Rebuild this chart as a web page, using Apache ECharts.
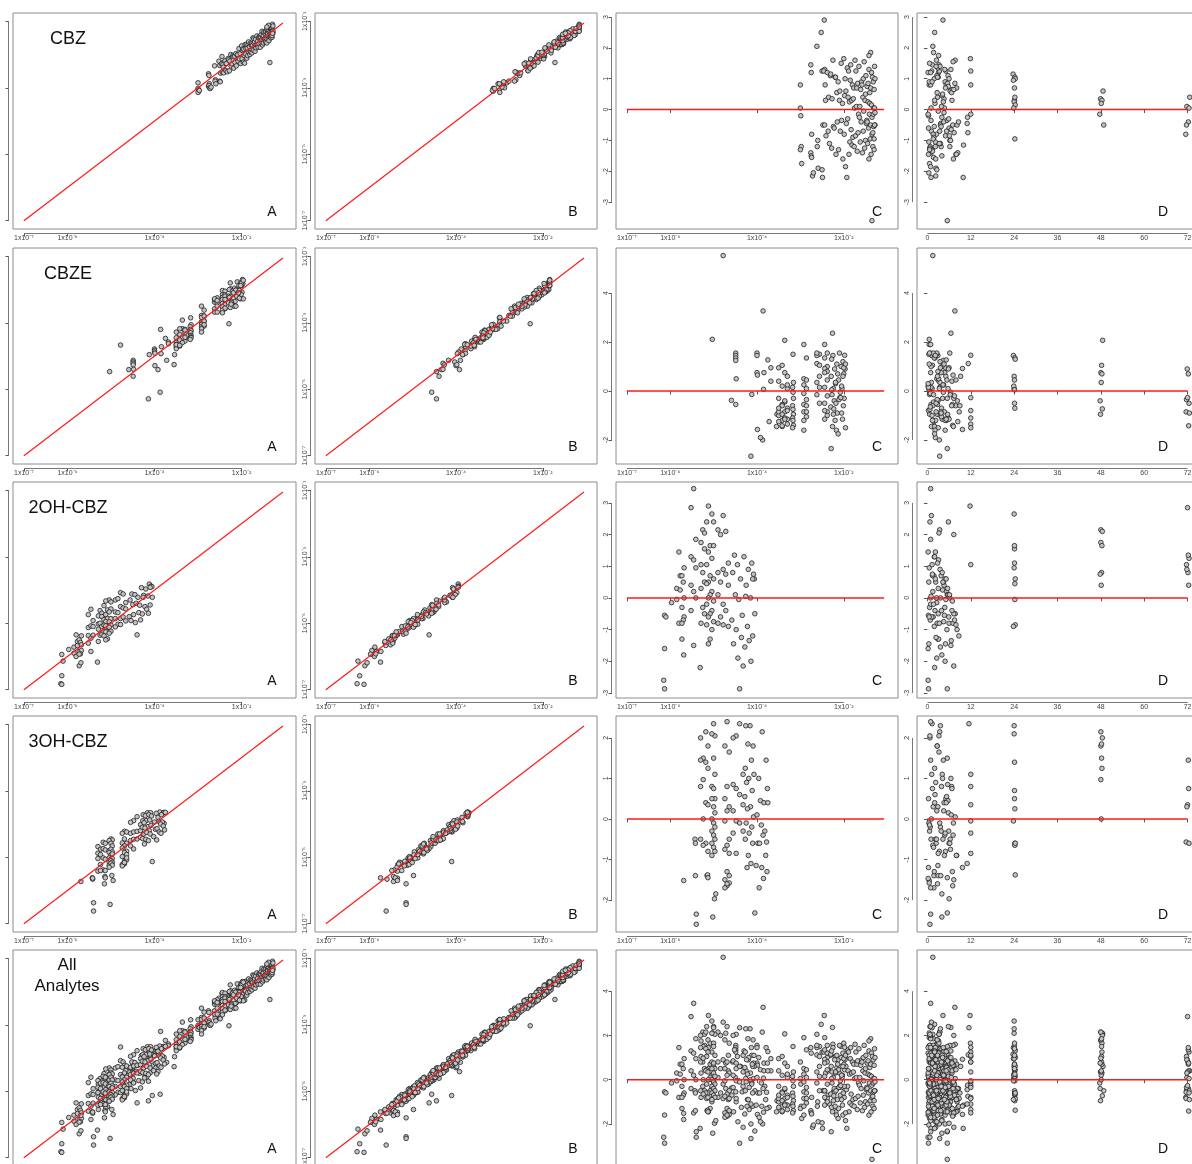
<!DOCTYPE html>
<html><head><meta charset="utf-8">
<script src="https://cdn.jsdelivr.net/npm/echarts@6/dist/echarts.min.js"></script>
<style>html,body{margin:0;padding:0;background:#fff}#c{width:1192px;height:1164px}</style>
</head><body><div id="c"></div>
<script>
// Columns of every row: [time (h), log10 PRED, log10 observed, log10 IPRED, CWRES]
const cbzRows = [
[0.5,-3.00,-2.85,-2.83,0.80],[1.0,-3.00,-3.02,-3.14,0.05],[0.3,-2.99,-3.07,-3.00,-0.20],[2.2,-2.98,-3.10,-3.14,-1.20],
[0.8,-3.00,-3.14,-2.99,-1.30],[0.6,-2.97,-3.08,-3.16,-1.75],[1.4,-2.76,-2.58,-2.58,1.45],[3.1,-2.75,-2.63,-2.53,1.20],
[2.5,-2.74,-2.88,-3.03,-0.80],[0.9,-2.76,-2.95,-2.90,-1.40],[4.0,-2.75,-2.93,-2.95,-1.50],[1.7,-2.74,-3.00,-2.88,-1.55],
[2.3,-2.72,-3.02,-3.11,-2.15],[0.4,-2.70,-2.98,-2.94,-2.05],[1.5,-2.62,-2.34,-2.40,2.05],[6.2,-2.60,-2.76,-2.62,-1.00],
[3.8,-2.61,-2.80,-2.78,-1.20],[2.4,-2.59,-2.88,-3.00,-1.90],[2.0,-2.52,-2.20,-2.13,2.50],[5.1,-2.50,-2.33,-2.37,1.25],
[2.6,-2.50,-2.80,-2.65,-1.95],[1.0,-2.49,-2.82,-2.90,-2.20],[7.0,-2.48,-2.56,-2.56,-0.50],[4.3,-2.45,-2.06,-1.96,2.90],
[6.5,-2.44,-2.25,-2.40,1.30],[3.3,-2.46,-2.28,-2.23,1.25],[0.9,-2.43,-2.31,-2.33,0.80],[24.1,-2.42,-2.38,-2.26,0.30],
[8.2,-2.44,-2.53,-2.62,-0.50],[5.0,-2.41,-2.55,-2.51,-0.85],
[0.2,-2.38,-2.19,-2.25,1.20],[1.1,-2.36,-2.48,-2.34,-0.70],[2.8,-2.35,-2.27,-2.25,0.40],[3.6,-2.33,-2.52,-2.64,-1.10],
[5.7,-2.31,-2.12,-2.05,1.10],[23.7,-2.30,-2.16,-2.20,1.15],[0.7,-2.28,-2.49,-2.34,-1.25],[4.6,-2.27,-2.20,-2.28,0.35],
[7.7,-2.25,-2.00,-2.00,1.60],[1.9,-2.24,-2.35,-2.25,-0.55],[6.0,-2.22,-2.28,-2.43,-0.60],[3.0,-2.20,-2.03,-1.98,1.05],
[24.2,-2.19,-2.07,-2.09,1.05],[0.3,-2.18,-2.41,-2.29,-1.45],[2.7,-2.16,-2.05,-2.14,0.55],[8.6,-2.15,-2.24,-2.20,-0.40],
[4.9,-2.13,-1.97,-2.03,0.90],[1.3,-2.12,-2.34,-2.20,-1.30],[6.8,-2.10,-2.02,-2.00,0.30],[48.6,-2.09,-2.00,-2.12,0.60],
[3.4,-2.08,-2.20,-2.13,-0.70],[0.6,-2.06,-1.82,-1.86,1.50],[5.4,-2.05,-2.13,-1.98,-0.35],[2.1,-2.03,-1.97,-2.05,0.20],
[7.2,-2.02,-2.27,-2.27,-1.60],[11.9,-2.00,-1.74,-1.64,1.65],[1.6,-1.99,-2.13,-2.28,-0.80],[4.1,-1.98,-1.88,-1.83,0.45],
[24.3,-1.97,-1.83,-1.85,1.00],[0.9,-1.96,-2.23,-2.11,-1.85],[6.3,-1.95,-1.84,-1.93,0.60],[3.7,-1.94,-2.03,-1.99,-0.45],
[9.9,-1.93,-2.26,-2.32,-2.20],[2.9,-1.92,-1.70,-1.56,1.35],[5.9,-1.91,-1.98,-1.96,-0.30],[72.6,-1.90,-1.82,-1.94,0.40],
[1.2,-1.89,-1.69,-1.62,1.25],[7.9,-1.88,-2.11,-2.15,-1.45],[4.4,-1.87,-1.80,-1.65,0.25],[0.4,-1.86,-2.03,-2.11,-1.05],
[23.8,-1.85,-1.70,-1.70,0.95],[3.2,-1.84,-1.62,-1.52,1.45],[6.6,-1.83,-1.94,-2.09,-0.65],[2.0,-1.82,-1.76,-1.71,0.30],
[10.0,-1.81,-2.00,-2.02,-1.15],[5.2,-1.80,-1.66,-1.54,0.80],[1.8,-1.79,-1.93,-2.02,-0.90],[47.9,-1.78,-1.71,-1.67,0.35],
[8.1,-1.77,-1.68,-1.74,0.70],[0.8,-1.76,-1.95,-1.81,-1.20],[4.7,-1.75,-1.72,-1.70,0.05],[2.5,-1.74,-1.50,-1.62,1.60],
[6.1,-1.73,-1.87,-1.80,-0.85],[12.0,-1.72,-1.53,-1.57,1.25],[3.9,-1.71,-1.67,-1.52,0.10],[24.1,-1.70,-1.62,-1.70,0.70],
[1.4,-1.69,-1.90,-1.90,-1.35],[5.6,-1.68,-1.54,-1.44,0.85],[7.4,-1.67,-1.80,-1.95,-0.75],[0.2,-1.66,-1.70,-1.65,-0.15],
[3.5,-1.65,-1.44,-1.46,1.40],[11.1,-1.64,-1.69,-1.57,-0.25],[71.8,-1.63,-1.60,-1.69,0.10],[2.2,-1.62,-1.78,-1.74,-1.05],
[6.9,-1.61,-1.50,-1.56,0.65],[4.5,-1.60,-1.67,-1.53,-0.40],[0.5,-1.59,-1.45,-1.43,0.90],[12.0,-1.58,-1.48,-1.60,0.80],
[8.4,-1.57,-1.78,-1.71,-1.40],[24.2,-1.56,-1.49,-1.53,0.40],[1.9,-1.55,-1.40,-1.25,1.00],[5.3,-1.55,-1.66,-1.74,-0.70],
[3.0,-1.54,-1.56,-1.56,-0.05],[7.1,-1.53,-1.30,-1.20,1.55],[0.7,-1.52,-1.71,-1.86,-1.25],[48.3,-1.51,-1.46,-1.41,0.30],
[4.2,-1.50,-1.43,-1.45,0.50],[6.4,-1.50,-1.65,-1.53,-1.00],[2.6,-1.49,-1.33,-1.42,1.10],[11.0,-1.48,-1.55,-1.51,-0.45],
[1.0,-1.47,-1.52,-1.58,-0.35],[72.2,-1.46,-1.52,-1.38,-0.40],[5.8,-1.46,-1.35,-1.33,0.75],[3.3,-1.45,-1.62,-1.74,-1.10],
[24.0,-1.44,-1.40,-1.33,0.25],[7.6,-1.44,-1.31,-1.35,0.85],[0.3,-1.43,-1.52,-1.37,-0.60],[4.8,-1.42,-1.23,-1.31,1.30],
[2.3,-1.42,-1.65,-1.65,-1.60],[12.0,-1.41,-1.43,-1.33,-0.15],[6.7,-1.40,-1.32,-1.47,0.55],[48.1,-1.40,-1.37,-1.32,0.20],
[1.6,-1.39,-1.53,-1.55,-0.95],[5.0,-1.38,-1.28,-1.16,0.70],[3.6,-1.38,-1.45,-1.54,-0.50],[8.0,-1.37,-1.58,-1.54,-1.45],
[24.3,-1.36,-1.34,-1.40,0.15],[0.9,-1.36,-1.19,-1.16,1.20],[71.5,-1.35,-1.46,-1.44,-0.80],[4.0,-1.35,-1.39,-1.51,-0.25],
[2.8,-1.34,-1.19,-1.16,1.05],[6.2,-1.33,-1.50,-1.54,-1.20],[11.2,-1.33,-1.43,-1.28,-0.75],[47.7,-1.32,-1.34,-1.42,-0.15],
[1.3,-1.32,-1.19,-1.19,0.90],[5.5,-1.35,-2.24,-1.72,-3.60],[3.8,-1.31,-1.39,-1.54,-0.55],[23.9,-1.31,-1.30,-1.25,0.05],
[7.3,-1.30,-1.21,-1.23,0.65],[0.6,-1.30,-1.48,-1.36,-1.30],[72.4,-1.29,-1.28,-1.37,0.05],[2.4,-1.29,-1.09,-1.16,1.40],
[48.8,-1.28,-1.35,-1.41,-0.50],[4.6,-1.28,-1.30,-1.16,-0.10],[24.2,-1.30,-1.43,-1.41,-0.95],[71.7,-1.29,-1.36,-1.48,-0.50],
[6.0,-1.28,-1.14,-1.16,1.00],[1.7,-1.38,-1.12,-1.16,1.85],[3.1,-1.42,-1.17,-1.16,1.75]
];
const cbzeRows = [
[0.5,-5.03,-4.47,-4.45,2.11],[1.5,-4.78,-3.67,-3.79,5.53],[3.0,-4.59,-4.41,-4.34,-0.38],[0.8,-4.49,-4.13,-4.17,1.55],
[1.2,-4.49,-4.18,-4.03,1.45],[2.1,-4.49,-4.22,-4.30,1.35],[4.4,-4.49,-4.27,-4.27,1.25],[2.6,-4.48,-4.40,-4.30,0.50],
[1.0,-4.49,-4.61,-4.39,-0.55],[3.4,-4.14,-5.29,-4.45,-2.66],[3.3,-3.87,-5.09,-4.56,-2.00],[0.6,-4.12,-3.96,-3.84,-0.14],
[6.2,-4.00,-3.79,-3.88,1.55],[2.9,-4.00,-3.83,-3.79,1.45],[4.8,-4.00,-3.88,-3.94,0.75],[7.1,-3.99,-3.92,-3.78,0.65],
[9.7,-3.99,-4.29,-4.00,-1.57],[2.2,-3.92,-4.41,-3.92,-1.90],[7.6,-3.86,-3.20,-3.13,3.27],[0.4,-3.85,-3.93,-3.97,0.07],
[3.8,-3.84,-3.72,-3.57,0.75],[5.2,-3.75,-3.47,-3.55,1.27],[1.8,-3.72,-4.13,-3.90,-1.25],[5.0,-3.68,-3.58,-3.48,0.95],
[6.8,-3.68,-3.63,-3.78,0.40],[1.1,-3.55,-4.26,-3.98,-1.45],[2.7,-3.54,-3.96,-3.85,-0.95],
[0.2,-3.42,-3.35,-3.23,0.20],[1.3,-3.30,-3.30,-3.39,0.10],[2.4,-3.36,-3.55,-3.51,-0.85],[3.6,-3.50,-3.72,-3.78,-1.00],
[4.1,-3.30,-3.50,-3.36,-1.15],[5.3,-3.42,-3.63,-3.61,-1.20],[6.0,-3.50,-3.28,-3.40,0.95],[0.9,-3.36,-3.18,-3.11,0.75],
[24.0,-3.30,-3.20,-3.24,0.60],[7.3,-3.50,-3.58,-3.43,-0.30],[1.7,-3.36,-3.48,-3.56,-0.45],[2.8,-3.42,-3.50,-3.50,-0.55],
[3.9,-3.30,-3.47,-3.37,-0.70],[4.7,-3.50,-3.65,-3.80,-0.85],[0.6,-3.42,-3.62,-3.57,-0.95],[5.8,-3.36,-3.55,-3.57,-1.10],
[8.4,-3.50,-3.78,-3.66,-1.25],[12.0,-3.30,-3.55,-3.64,-1.35],[2.0,-3.42,-3.70,-3.66,-1.45],[48.5,-3.36,-2.92,-2.98,2.07],
[1.4,-3.42,-3.18,-3.04,1.05],[3.2,-3.50,-3.45,-3.43,0.40],[4.5,-3.30,-3.22,-3.34,0.25],[47.8,-3.36,-3.46,-3.39,-0.40],
[7.8,-3.42,-3.52,-3.56,-0.60],[0.3,-3.30,-3.44,-3.29,-0.80],[24.2,-3.50,-3.66,-3.74,-0.70],[5.0,-3.36,-3.60,-3.60,-1.15],
[72.3,-3.42,-3.68,-3.58,-1.42],[2.5,-3.17,-2.85,-3.00,1.50],[3.5,-3.16,-3.06,-3.01,0.35],[1.0,-3.18,-3.12,-3.14,0.15],
[6.4,-3.17,-3.20,-3.08,-0.05],[4.2,-3.16,-3.24,-3.33,-0.30],[9.0,-3.18,-3.32,-3.28,-0.60],[0.7,-3.17,-3.30,-3.36,-0.75],
[5.6,-3.16,-3.38,-3.24,-0.95],[12.0,-3.18,-3.40,-3.38,-1.10],[2.3,-3.17,-3.44,-3.56,-1.20],[7.0,-3.16,-3.45,-3.38,-1.40],
[3.0,-3.18,-3.50,-3.54,-1.50],
[0.5,-2.92,-2.50,-2.35,1.90],[1.9,-2.86,-2.62,-2.70,1.35],[3.1,-2.92,-2.78,-2.78,0.50],[24.1,-2.86,-2.80,-2.70,0.45],
[4.3,-2.92,-2.84,-2.99,0.25],[5.7,-2.86,-2.80,-2.75,0.10],[0.8,-2.92,-2.97,-2.99,-0.10],[2.7,-2.86,-2.95,-2.83,-0.35],
[6.9,-2.92,-3.05,-3.14,-0.55],[1.5,-2.86,-2.95,-2.91,-0.60],[8.8,-2.92,-3.12,-3.18,-0.85],[3.9,-2.86,-3.10,-2.96,-1.05],
[4.9,-2.92,-3.18,-3.16,-1.20],[71.6,-2.86,-3.06,-3.18,-0.85],[2.1,-2.92,-3.28,-3.21,-1.60],[11.3,-2.62,-2.38,-2.42,1.12],
[0.4,-2.56,-2.25,-2.10,1.50],[23.8,-2.62,-2.30,-2.38,1.45],[5.1,-2.56,-2.40,-2.40,0.60],[1.1,-2.62,-2.58,-2.48,0.35],
[3.4,-2.56,-2.50,-2.65,0.15],[6.3,-2.62,-2.68,-2.63,-0.15],[72.4,-2.56,-2.68,-2.70,-0.50],[2.6,-2.62,-2.28,-2.16,1.55],
[48.2,-2.56,-2.33,-2.42,1.05],
[0.9,-2.44,-2.03,-1.99,1.90],[1.6,-2.38,-2.05,-2.11,1.55],[24.2,-2.44,-2.16,-2.02,1.35],[4.0,-2.38,-2.16,-2.14,1.00],
[9.7,-2.44,-2.24,-2.36,0.92],[2.9,-2.38,-2.20,-2.13,0.80],[48.0,-2.44,-2.30,-2.34,0.75],[5.4,-2.38,-2.30,-2.15,0.45],
[0.3,-2.44,-2.42,-2.50,0.15],[7.5,-2.38,-2.44,-2.44,-0.20],[24.1,-2.44,-2.52,-2.42,-0.50],[3.7,-2.38,-2.58,-2.73,-0.85],
[12.0,-2.44,-2.62,-2.57,-0.80],[1.3,-2.38,-2.56,-2.58,-1.00],[6.0,-2.44,-2.70,-2.58,-1.15],
[0.6,-2.10,-1.77,-1.86,1.55],[2.2,-2.25,-1.98,-1.94,1.45],[3.5,-2.02,-1.80,-1.86,1.20],[24.3,-2.28,-2.00,-1.86,1.30],
[12.0,-1.98,-1.70,-1.84,1.46],[4.6,-2.16,-1.96,-2.08,1.10],[1.0,-2.06,-1.88,-1.84,1.00],[6.5,-2.26,-1.80,-1.84,2.36],
[5.8,-2.21,-2.05,-1.90,0.90],[48.3,-2.00,-1.88,-1.96,0.70],[2.8,-2.29,-2.20,-2.20,0.60],[7.9,-2.12,-2.01,-1.91,0.45],
[71.9,-1.97,-1.82,-1.97,0.90],[0.2,-2.19,-2.11,-2.06,0.30],[3.3,-2.04,-2.05,-2.07,0.10],[24.0,-2.24,-2.20,-2.08,0.10],
[4.4,-2.08,-2.12,-2.21,-0.05],[1.7,-2.27,-2.27,-2.23,-0.15],[72.2,-2.14,-2.02,-2.08,0.70],[5.5,-1.99,-2.08,-1.94,-0.30],
[8.3,-2.22,-2.32,-2.30,-0.40],[23.9,-2.05,-2.03,-2.15,0.20],[2.4,-2.18,-2.26,-2.19,-0.50],[6.7,-2.01,-2.15,-2.19,-0.60],
[0.8,-2.30,-2.40,-2.25,-0.65],[12.0,-2.09,-2.12,-2.20,-0.27],[3.8,-2.15,-2.36,-2.36,-0.90],[48.4,-2.23,-2.40,-2.30,-0.73],
[5.2,-2.03,-2.28,-2.43,-1.15],[1.4,-2.20,-2.46,-2.41,-1.20],[5.5,-2.29,-3.03,-2.29,-2.35],[71.7,-2.11,-2.20,-2.08,-0.35],
[7.2,-2.26,-2.54,-2.63,-1.45],[12.0,-1.96,-2.28,-2.24,-1.50],[4.9,-2.17,-2.50,-2.56,-1.60],[72.0,-2.07,-2.10,-1.96,-0.27],
[2.0,-2.13,-2.50,-2.48,-1.75],[47.9,-2.24,-2.44,-2.56,-0.95],[3.6,-2.00,-1.80,-1.84,0.95],[24.1,-2.28,-2.24,-2.28,0.05],
[72.5,-2.05,-2.26,-2.11,-0.90],[0.5,-1.96,-1.72,-1.84,1.10],[48.1,-2.19,-2.10,-2.10,0.35],[9.2,-2.02,-1.88,-1.84,0.60]
];
const oh2Rows = [
[0.3,-6.13,-5.94,-5.92,-0.55],[1.6,-6.10,-6.14,-6.26,-0.60],[0.2,-6.13,-6.58,-6.22,-1.60],[0.2,-6.15,-6.82,-6.28,-2.60],
[0.3,-6.13,-6.84,-6.12,-2.87],[2.6,-5.97,-5.79,-5.87,-0.15],
[0.2,-5.80,-5.35,-5.35,1.45],[1.8,-5.77,-5.55,-5.45,0.70],[3.0,-5.85,-5.72,-5.87,0.30],[4.2,-5.77,-5.67,-5.62,0.25],
[5.1,-5.85,-5.90,-5.92,-0.05],[6.0,-5.80,-6.00,-5.88,-0.80],
[0.5,-5.68,-5.38,-5.47,0.95],[1.4,-5.73,-5.50,-5.46,0.70],[2.3,-5.70,-5.58,-5.64,0.50],[3.6,-5.68,-5.65,-5.51,0.00],
[4.8,-5.73,-5.85,-5.83,-0.30],[5.9,-5.68,-5.82,-5.94,-0.60],[0.8,-5.70,-5.92,-5.85,-0.70],[7.1,-5.73,-5.93,-5.97,-0.80],
[2.9,-5.73,-6.28,-6.10,-1.30],[4.0,-5.69,-6.19,-6.05,-1.80],
[0.9,-5.46,-4.58,-4.58,3.45],[72.0,-5.52,-4.74,-4.64,2.85],[0.9,-5.41,-4.92,-5.07,1.85],[1.9,-5.52,-5.13,-5.08,1.30],
[3.1,-5.46,-5.08,-5.10,1.20],[24.0,-5.41,-5.10,-4.98,0.95],[4.6,-5.52,-5.37,-5.46,0.40],[5.3,-5.46,-5.45,-5.41,0.20],
[6.2,-5.41,-5.36,-5.42,0.00],[2.1,-5.52,-5.60,-5.46,-0.40],[6.5,-5.46,-5.85,-5.73,-1.50],[2.0,-5.31,-6.17,-5.74,-2.20],
[3.4,-5.25,-4.62,-4.55,2.15],[3.2,-5.21,-4.70,-4.74,2.05],[48.0,-5.29,-4.78,-4.63,1.75],[24.1,-5.21,-4.80,-4.88,1.55],
[1.3,-5.29,-5.02,-5.02,1.05],[72.1,-5.25,-5.00,-4.90,0.80],[4.4,-5.21,-5.10,-5.25,0.50],[5.6,-5.29,-5.18,-5.13,0.30],
[0.6,-5.25,-5.36,-5.38,-0.30],[7.7,-5.21,-5.33,-5.21,-0.50],[2.7,-5.29,-5.55,-5.64,-0.80],
[24.0,-5.04,-4.30,-4.26,2.65],[11.8,-5.12,-4.33,-4.39,2.90],[5.8,-5.00,-4.36,-4.22,2.40],[0.7,-5.16,-4.47,-4.45,2.40],
[24.1,-5.08,-4.60,-4.72,1.65],[48.3,-5.00,-4.57,-4.50,1.65],[2.2,-5.12,-4.74,-4.78,1.45],[72.4,-5.04,-4.66,-4.51,1.25],
[71.7,-5.16,-4.89,-4.97,1.05],[3.8,-5.08,-4.86,-4.86,0.70],[4.9,-5.00,-4.86,-4.76,0.60],[0.4,-5.12,-4.95,-5.10,0.50],
[24.2,-5.16,-5.06,-5.01,0.45],[1.5,-5.04,-4.96,-4.98,0.20],[5.5,-5.08,-5.08,-4.96,0.10],[2.5,-5.12,-5.08,-5.17,0.00],
[6.9,-5.00,-5.05,-5.01,-0.10],[0.9,-5.16,-5.25,-5.31,-0.20],[3.9,-5.04,-5.12,-4.98,-0.40],[7.3,-5.08,-5.25,-5.23,-0.50],
[1.2,-5.12,-5.26,-5.38,-0.60],[4.5,-5.00,-5.24,-5.17,-0.75],[24.3,-5.16,-5.38,-5.42,-0.85],[8.2,-5.04,-5.30,-5.15,-1.00],
[3.1,-5.08,-5.47,-5.55,-1.30],[5.0,-5.12,-5.50,-5.50,-1.45],
[1.1,-4.78,-4.08,-3.98,2.60],[48.0,-4.90,-4.30,-4.45,2.15],[48.4,-4.72,-4.12,-4.07,2.10],[7.3,-4.84,-4.26,-4.28,2.00],
[2.8,-4.66,-4.38,-4.26,1.10],[48.2,-4.90,-4.66,-4.75,0.80],[3.5,-4.78,-4.50,-4.46,0.90],[47.8,-4.72,-4.54,-4.60,0.75],
[4.3,-4.84,-4.68,-4.54,0.50],[48.1,-4.66,-4.57,-4.55,0.40],[5.7,-4.90,-4.86,-4.98,0.10],[1.7,-4.78,-4.86,-4.79,-0.20],
[6.8,-4.72,-4.81,-4.85,-0.40],[0.5,-4.84,-5.03,-4.88,-0.60],[23.8,-4.66,-4.93,-5.01,-0.90],[3.3,-4.90,-5.11,-5.11,-0.80],
[7.9,-4.78,-5.04,-4.94,-0.85],
[2.0,-4.30,-3.93,-4.08,1.30],[72.2,-4.52,-4.12,-4.07,1.35],[24.1,-4.12,-3.82,-3.95,1.10],[12.0,-4.45,-4.14,-4.02,1.05],
[71.8,-4.20,-3.97,-4.06,0.90],[4.1,-4.56,-4.30,-4.26,0.80],[1.4,-4.08,-3.88,-3.94,0.75],[5.2,-4.38,-4.22,-4.08,0.60],
[72.3,-4.25,-4.16,-4.14,0.40],[6.1,-4.50,-4.44,-4.56,0.10],[0.9,-4.15,-4.18,-4.11,0.00],[24.2,-4.42,-4.40,-4.44,-0.05],
[3.0,-4.05,-4.22,-4.07,-0.50],[4.7,-4.34,-4.46,-4.54,-0.55],[7.5,-4.58,-4.80,-4.80,-0.70],[1.9,-4.22,-4.50,-4.40,-0.90],
[5.4,-4.48,-4.74,-4.89,-1.00],[8.7,-4.10,-4.45,-4.40,-1.20],[2.4,-4.36,-4.68,-4.70,-1.25],[6.6,-4.18,-4.58,-4.46,-1.35],
[0.4,-4.54,-4.92,-5.01,-1.45],[3.6,-4.28,-4.72,-4.68,-1.55],[2.6,-4.44,-4.98,-5.04,-1.90],[4.9,-4.14,-4.70,-4.56,-2.00],
[7.3,-4.32,-4.90,-4.88,-2.15],[5.5,-4.40,-5.35,-4.62,-2.87],[2.2,-4.06,-3.90,-3.95,0.60],[1.0,-4.26,-4.22,-4.26,0.05],
[24.3,-4.10,-3.92,-3.95,0.60]
];
const oh3Rows = [
[0.5,-5.69,-5.73,-5.44,-1.52],[1.0,-5.43,-5.62,-5.74,-0.50],[2.4,-5.42,-5.66,-5.59,-0.60],[1.8,-5.42,-5.63,-5.35,-1.40],
[0.9,-5.40,-6.37,-5.15,-2.35],[0.7,-5.40,-6.62,-5.61,-2.60],
[3.4,-5.18,-4.55,-4.55,2.15],[0.7,-5.30,-4.68,-4.58,2.00],[2.7,-5.13,-4.58,-4.73,1.80],[5.5,-5.24,-4.76,-4.71,1.50],
[0.9,-5.30,-4.88,-4.90,1.45],[24.1,-5.18,-4.74,-4.62,1.40],[2.0,-5.13,-4.78,-4.87,1.25],[48.0,-5.24,-4.92,-4.88,0.97],
[3.9,-5.30,-5.04,-5.10,0.80],[4.6,-5.18,-5.02,-4.88,0.40],[72.0,-5.13,-5.06,-5.04,0.35],[48.1,-5.24,-5.22,-5.34,0.00],
[6.3,-5.30,-5.42,-5.35,-0.50],[24.2,-5.18,-5.38,-5.42,-0.60],[1.5,-5.24,-5.40,-5.25,-0.65],[5.0,-5.13,-5.40,-5.48,-0.80],
[3.0,-5.15,-5.80,-5.15,-1.40],[24.3,-5.14,-5.58,-5.44,-1.38],[5.5,-5.13,-5.62,-5.40,-1.45],
[1.3,-5.00,-4.45,-4.47,2.35],[3.2,-4.97,-4.48,-4.36,2.05],[24.0,-5.04,-4.50,-4.59,2.10],[48.2,-5.00,-4.58,-4.54,1.50],
[4.1,-4.97,-4.66,-4.72,1.10],[6.7,-5.04,-4.80,-4.66,0.80],[72.3,-5.00,-4.76,-4.74,0.75],[0.3,-4.97,-4.84,-4.96,0.50],
[24.1,-5.04,-4.86,-4.79,0.50],[2.9,-5.00,-4.93,-4.97,0.30],[5.8,-4.97,-4.90,-4.75,0.15],[1.1,-5.04,-5.02,-5.10,0.00],
[7.2,-5.00,-5.06,-5.06,-0.10],[3.6,-4.97,-5.04,-4.94,-0.20],[0.6,-5.04,-5.15,-5.30,-0.30],[4.8,-5.00,-5.10,-5.05,-0.40],
[2.2,-4.97,-5.15,-5.17,-0.50],[6.0,-5.04,-5.24,-5.12,-0.60],[1.7,-5.00,-5.18,-5.27,-0.70],[3.3,-4.97,-5.24,-5.20,-0.80],
[8.1,-5.04,-5.30,-5.36,-0.90],[4.0,-5.02,-6.42,-5.15,-2.42],[6.0,-4.98,-5.55,-4.98,-1.97],[4.0,-4.95,-5.70,-5.35,-1.85],
[0.9,-4.69,-4.22,-4.15,2.40],[48.0,-4.74,-4.28,-4.32,1.80],[3.2,-4.64,-4.24,-4.09,1.65],[12.0,-4.69,-4.45,-4.53,0.80],
[5.1,-4.74,-4.57,-4.57,0.50],[71.8,-4.64,-4.58,-4.48,0.30],[2.6,-4.69,-4.66,-4.81,0.20],[12.0,-4.74,-4.72,-4.67,-0.05],
[4.3,-4.64,-4.82,-4.84,-0.50],[24.2,-4.69,-4.86,-4.74,-0.65],[6.4,-4.74,-4.98,-5.07,-0.75],[12.0,-4.64,-4.92,-4.88,-0.85],
[1.9,-4.69,-5.12,-5.18,-1.30],[7.3,-4.74,-5.22,-5.08,-1.50],[0.5,-4.64,-5.08,-5.06,-1.58],[7.0,-4.69,-5.20,-5.32,-1.65],
[1.8,-4.74,-5.26,-5.19,-1.70],[3.7,-4.64,-5.02,-5.06,-1.40],[2.8,-4.69,-5.16,-5.01,-1.60],
[0.7,-4.48,-3.90,-3.98,2.05],[48.4,-4.55,-3.95,-3.95,2.00],[11.5,-4.40,-3.78,-3.73,2.35],[12.0,-4.32,-4.02,-4.17,1.10],
[5.6,-4.55,-4.28,-4.23,0.85],[6.8,-4.48,-4.24,-4.26,0.75],[2.1,-4.40,-4.22,-4.10,0.60],[12.0,-4.32,-4.20,-4.29,0.35],
[4.5,-4.55,-4.50,-4.46,0.20],[23.8,-4.48,-4.46,-4.52,-0.05],[0.4,-4.40,-4.45,-4.31,-0.10],[5.9,-4.32,-4.40,-4.38,-0.30],
[12.0,-4.55,-4.66,-4.78,-0.35],[3.0,-4.48,-4.75,-4.68,-0.85],
[3.6,-4.16,-3.66,-3.70,2.30],[24.0,-4.26,-3.72,-3.73,2.30],[2.7,-4.09,-3.66,-3.74,1.80],[48.2,-4.21,-3.75,-3.75,1.85],
[4.4,-4.13,-3.72,-3.73,1.45],[48.3,-4.27,-3.90,-4.05,1.25],[1.2,-4.07,-3.76,-3.73,1.10],[6.5,-4.19,-3.90,-3.92,1.00],
[2.3,-4.24,-3.96,-3.84,0.90],[24.1,-4.11,-3.88,-3.97,0.70],[5.3,-4.28,-4.10,-4.06,0.55],[1.6,-4.15,-4.08,-4.14,0.30],
[24.2,-4.22,-4.12,-3.98,0.25],[7.7,-4.08,-4.04,-4.02,0.05],[3.4,-4.25,-4.30,-4.42,-0.10],[0.8,-4.12,-4.20,-4.13,-0.20],
[4.9,-4.18,-4.25,-4.29,-0.35],[2.5,-4.27,-4.44,-4.29,-0.50],[6.2,-4.10,-4.30,-4.38,-0.60],[8.0,-4.20,-4.46,-4.46,-0.90],
[11.0,-4.14,-4.50,-4.40,-1.10],[9.7,-4.23,-4.60,-4.75,-1.20],[5.5,-4.05,-5.13,-4.10,-2.32],
[48.0,-3.88,-3.64,-3.73,2.15],[72.2,-3.79,-3.65,-3.73,1.45],[4.2,-3.96,-3.68,-3.77,1.00],[1.4,-3.76,-3.66,-3.73,0.75],
[5.7,-3.92,-3.80,-3.86,0.45],[2.0,-3.84,-3.72,-3.73,0.40],[6.6,-4.00,-3.94,-3.92,0.10],[71.6,-3.78,-3.98,-4.10,-0.57],
[0.6,-3.90,-3.92,-3.85,-0.15],[3.8,-3.82,-3.94,-3.98,-0.30],[72.4,-3.98,-4.16,-4.01,-0.60],[7.1,-3.86,-4.00,-4.08,-0.40],
[24.3,-3.94,-4.14,-4.14,-0.60],[4.7,-3.80,-4.06,-3.96,-0.90],[2.9,-4.02,-4.38,-4.53,-1.15],[0.3,-3.89,-4.24,-4.19,-1.20],
[6.9,-3.77,-4.18,-4.20,-1.30],[0.9,-3.95,-4.48,-4.36,-1.70],[5.2,-3.75,-3.65,-3.74,0.40],[0.2,-3.85,-4.28,-4.24,-1.47]
];

const analyteTitles = ['CBZ', 'CBZE', '2OH-CBZ', '3OH-CBZ', 'All\nAnalytes'];
const panelLetters = ['A', 'B', 'C', 'D'];
const logXTicks = [-7, -6, -4, -2];
const logYTicks = [-7, -5, -3, -1];
const timeTicks = [0, 12, 24, 36, 48, 60, 72];
const residualTicks = [[-3,-2,-1,0,1,2,3], [-2,0,2,4], [-3,-2,-1,0,1,2,3], [-2,-1,0,1,2], [-2,0,2,4]];
const residualRanges = [[-3.87,3.13], [-2.98,5.84], [-3.16,3.66], [-2.79,2.54], [-3.9,5.86]];
const concRange = [-7.25, -0.75];
const timeRange = [-2.88, 74.88];
const identityEnds = [-7, -1.05];
const zeroLineConc = [-7, -1.07];
const zeroLineTime = [0, 72];

const allRows = [].concat(cbzRows, cbzeRows, oh2Rows, oh3Rows);
const panelRows = [cbzRows, cbzeRows, oh2Rows, oh3Rows, allRows];

// layout
const colLeft = [13, 315, 616, 917];
const colWidth = [283, 282, 282, 281];
const rowTop = [13, 248, 482, 716, 950];
const rowHeight = 216;
const letterX = [272, 573, 877, 1163];

const SUP = {'-':'\u207B','0':'\u2070','1':'\u00B9','2':'\u00B2','3':'\u00B3','4':'\u2074','5':'\u2075','6':'\u2076','7':'\u2077','8':'\u2078','9':'\u2079'};
const pow10Label = v => '1x10' + String(v).split('').map(ch => SUP[ch] || ch).join('');
const FONT = 'Liberation Sans, Arial, Helvetica, sans-serif';
const tickLabel = {fontSize: 7, color: '#444', fontFamily: FONT, margin: 2, hideOverlap: false};
const tickStyle = {length: 3.5, lineStyle: {color: '#555', width: 1}};

const grid = [], xAxis = [], yAxis = [], series = [], texts = [];
const panelInfo = [];

for (let r = 0; r < 5; r++) {
  const rows = panelRows[r];
  for (let c = 0; c < 4; c++) {
    const gi = r * 4 + c;
    const isTime = c === 3, isRes = c >= 2;
    grid.push({left: colLeft[c], top: rowTop[r], width: colWidth[c], height: rowHeight,
      outerBoundsMode: 'none', containLabel: false,
      show: true, borderColor: '#8c8c8c', borderWidth: 1, backgroundColor: '#fff'});
    const xt = isTime ? timeTicks : logXTicks;
    const xr = isTime ? timeRange : concRange;
    const yt = isRes ? residualTicks[r] : logYTicks;
    const yr = isRes ? residualRanges[r] : concRange;
    panelInfo.push({gi, xt, yt, xr, yr});
    xAxis.push({type: 'value', gridIndex: gi, min: xr[0], max: xr[1], offset: 4,
      axisLine: {show: false}, splitLine: {show: false},
      axisTick: Object.assign({show: true, customValues: xt}, tickStyle),
      axisLabel: Object.assign({customValues: xt, formatter: isTime ? (v => String(v)) : pow10Label}, tickLabel)});
    yAxis.push({type: 'value', gridIndex: gi, min: yr[0], max: yr[1], offset: 4,
      axisLine: {show: false}, splitLine: {show: false},
      axisTick: Object.assign({show: true, customValues: yt}, tickStyle),
      axisLabel: Object.assign({show: c !== 0, customValues: yt, rotate: 90, formatter: isRes ? (v => String(v)) : pow10Label}, tickLabel)});
    let pts;
    if (c === 0) pts = rows.map(d => [d[1], d[2]]);
    else if (c === 1) pts = rows.map(d => [d[3], d[2]]);
    else if (c === 2) pts = rows.map(d => [d[1], d[4]]);
    else pts = rows.map(d => [d[0], d[4]]);
    series.push({type: 'scatter', xAxisIndex: gi, yAxisIndex: gi, data: pts, symbol: 'circle', symbolSize: 4.6,
      itemStyle: {color: '#c4c4c4', borderColor: '#1e1e1e', borderWidth: 0.8, opacity: 1}, silent: true, z: 2});
    let ref;
    if (c < 2) ref = identityEnds.map(v => [v, v]);
    else if (c === 2) ref = zeroLineConc.map(v => [v, 0]);
    else ref = zeroLineTime.map(v => [v, 0]);
    series.push({type: 'line', xAxisIndex: gi, yAxisIndex: gi, data: ref, symbol: 'none', silent: true, z: 3,
      lineStyle: {color: '#ff1a1a', width: c < 2 ? 1.2 : 1.5}});
    texts.push({type: 'text', x: letterX[c], y: rowTop[r] + 199, silent: true, z: 10,
      style: {text: panelLetters[c], fill: '#111', font: '14px ' + FONT, textAlign: 'center', textVerticalAlign: 'middle'}});
  }
  const isAll = r === 4;
  texts.push({type: 'text', x: isAll ? 67 : 68, y: rowTop[r] + 26, silent: true, z: 10,
    style: {text: analyteTitles[r], fill: '#111', font: (isAll ? '17px ' : '18px ') + FONT,
      textAlign: 'center', textVerticalAlign: 'middle', lineHeight: 21}});
}

const chart = echarts.init(document.getElementById('c'), null, {renderer: 'canvas'});
chart.setOption({animation: false, backgroundColor: '#fff', grid, xAxis, yAxis, series, graphic: texts});

// R-style axis lines spanning first..last tick, offset from the box
const lines = [];
panelInfo.forEach(p => {
  const a = chart.convertToPixel({gridIndex: p.gi}, [p.xt[0], p.yr[0]]);
  const b = chart.convertToPixel({gridIndex: p.gi}, [p.xt[p.xt.length - 1], p.yr[0]]);
  lines.push({type: 'line', silent: true, z: 5, shape: {x1: a[0], y1: a[1] + 4.5, x2: b[0], y2: b[1] + 4.5},
    style: {stroke: '#777', lineWidth: 1}});
  const e = chart.convertToPixel({gridIndex: p.gi}, [p.xr[0], p.yt[0]]);
  const f = chart.convertToPixel({gridIndex: p.gi}, [p.xr[0], p.yt[p.yt.length - 1]]);
  lines.push({type: 'line', silent: true, z: 5, shape: {x1: e[0] - 4.5, y1: e[1], x2: f[0] - 4.5, y2: f[1]},
    style: {stroke: '#777', lineWidth: 1}});
});
chart.setOption({graphic: texts.concat(lines)});
</script></body></html>
